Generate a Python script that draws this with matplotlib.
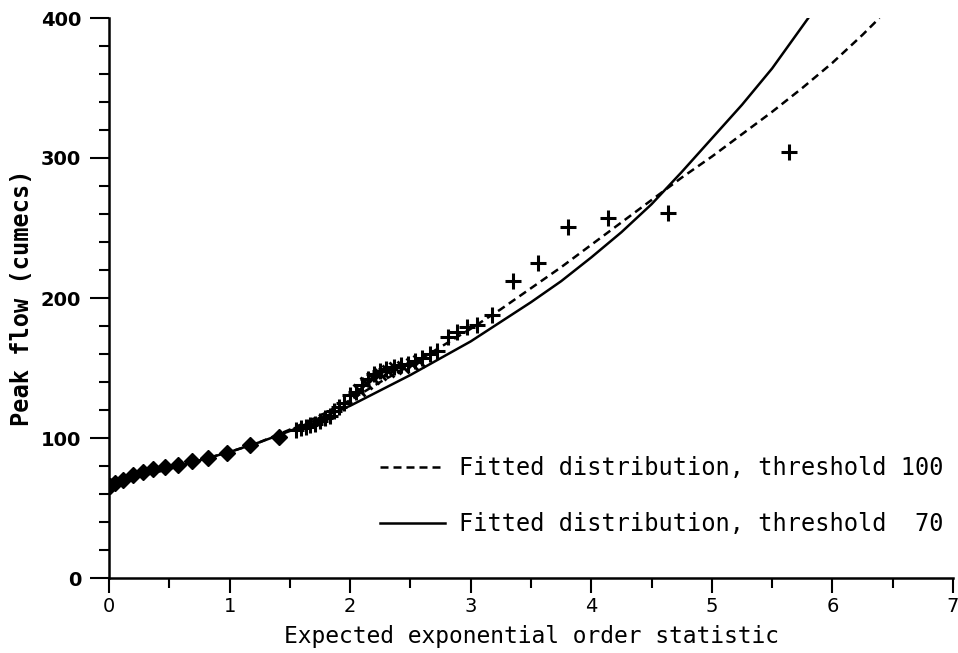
import numpy as np
import matplotlib.pyplot as plt

# ---------- data ----------
# points below ~105 cumecs (drawn as filled diamonds)
x_diam = [0.01, 0.05, 0.116, 0.2, 0.28, 0.365, 0.465, 0.57, 0.69, 0.82, 0.98, 1.17, 1.41]
y_diam = [66, 68, 70, 73.5, 76, 78, 79, 81, 83.5, 86, 89, 95, 101]

# points drawn as plus signs
x_plus = [1.55, 1.59, 1.63, 1.67, 1.71, 1.75, 1.79, 1.83, 1.87, 1.91, 1.95,
          2.0, 2.05, 2.10, 2.15, 2.2, 2.25, 2.3, 2.36, 2.42, 2.48, 2.54, 2.6,
          2.66, 2.72, 2.81, 2.89, 2.97, 3.05, 3.18, 3.35, 3.56, 3.81, 4.14,
          4.64, 5.64]
y_plus = [106, 107, 108, 109, 110, 112, 114, 116, 119, 122, 125,
          131, 133, 138, 142, 146, 148, 149, 151, 152, 153, 155, 157,
          160, 162, 172, 176, 179, 181, 188, 212, 225, 251, 257,
          261, 304]

# overlapping crosses in the dense part
x_cross = [2.07, 2.13, 2.19, 2.25, 2.31, 2.37, 2.44, 2.51, 2.57]
y_cross = [134, 139, 143, 146, 148, 150, 151, 153, 155]

# fitted curves
x_fit70 = [0, 0.5, 1.0, 1.25, 1.5, 1.75, 2.0, 2.25, 2.5, 2.75, 3.0, 3.25,
           3.5, 3.75, 4.0, 4.25, 4.5, 4.75, 5.0, 5.25, 5.5, 5.8]
y_fit70 = [67, 78, 90, 97, 105, 114, 123, 134, 145, 157, 169, 183,
           197, 212, 229, 247, 267, 290, 314, 338, 364, 400]

x_fit100 = [0, 0.5, 1.0, 1.25, 1.5, 1.75, 2.0, 2.25, 2.5, 2.75, 3.0, 3.25,
            3.5, 3.75, 4.0, 4.25, 4.5, 4.75, 5.0, 5.25, 5.5, 5.75, 6.0, 6.25, 6.39]
y_fit100 = [67, 78, 90, 97, 106, 116, 127, 140, 152, 165, 178, 192,
            207, 222, 238, 254, 270, 286, 301, 317, 333, 350, 368, 388, 400]

xticks = [0, 1, 2, 3, 4, 5, 6, 7]
yticks = [0, 100, 200, 300, 400]

# ---------- plot ----------
fig = plt.figure(figsize=(9.58, 6.53), dpi=100)
ax = fig.add_axes([109/958, 1 - 578/653, (953-109)/958, (578-18)/653])

ax.plot(x_fit100, y_fit100, color='black', lw=1.8, dashes=(3.2, 2.0),
        label='Fitted distribution, threshold 100')
ax.plot(x_fit70, y_fit70, color='black', lw=1.8,
        label='Fitted distribution, threshold  70')
ax.plot(x_diam, y_diam, 'D', color='black', ms=8.5, ls='none')
ax.plot(x_plus, y_plus, '+', color='black', ms=12, mew=2.2, ls='none')
ax.plot(x_cross, y_cross, 'x', color='black', ms=8, mew=2.0, ls='none')

ax.set_xlim(0, 7)
ax.set_ylim(0, 400)
ax.spines['top'].set_visible(False)
ax.spines['right'].set_visible(False)
ax.spines['left'].set_linewidth(1.8)
ax.spines['bottom'].set_linewidth(1.8)

ax.set_xticks(xticks)
ax.set_xticks(np.arange(0.5, 7, 1.0), minor=True)
ax.set_yticks(yticks)
ax.set_yticks([v for v in range(20, 400, 20) if v % 100], minor=True)
ax.tick_params(axis='x', which='major', length=11, width=1.5, labelsize=14, pad=3)
ax.tick_params(axis='x', which='minor', length=7, width=1.5)
ax.tick_params(axis='y', which='major', length=14, width=1.5, labelsize=14, pad=6)
ax.tick_params(axis='y', which='minor', length=7, width=1.5)
for lab in ax.get_yticklabels():
    lab.set_fontweight('bold')

ax.set_xlabel('Expected exponential order statistic', family='DejaVu Sans Mono',
              fontsize=16.5)
ax.xaxis.set_label_coords(0.5, -0.084)
ax.set_ylabel('Peak flow (cumecs)', family='DejaVu Sans Mono', fontsize=17,
              fontweight='bold', labelpad=5)

ax.legend(loc='upper left', bbox_to_anchor=(380/958, 1 - 456/653),
          bbox_transform=fig.transFigure, frameon=False, borderpad=0,
          borderaxespad=0, handlelength=2.75, handletextpad=0.6,
          labelspacing=1.35, prop={'family': 'DejaVu Sans Mono', 'size': 17})

fig.savefig('out.png', dpi=100)
